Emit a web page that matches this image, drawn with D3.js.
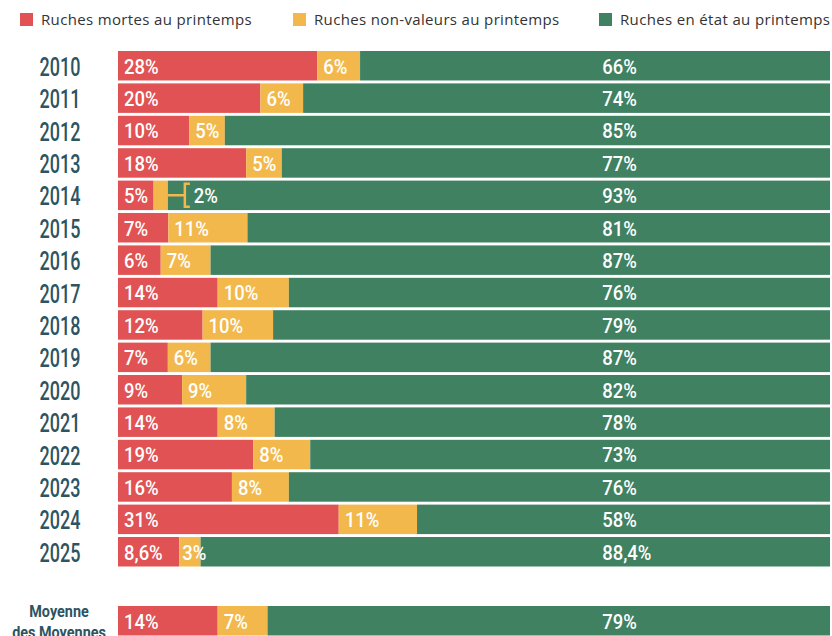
<!DOCTYPE html>
<html lang="fr">
  <head>
    <meta charset="utf-8">
    <title>Ruches au printemps</title>
    <script src="https://d3js.org/d3.v7.min.js"></script>
    <style>
      body { margin: 0; background: #fff; }
      svg { display: block; }
    </style>
  </head>
  <body>
    <script>
      var width = 832;
      var height = 636;
      var margin = {top: 51, left: 118, right: 2, bottom: 0};

      // données
      var years = ["2010","2011","2012","2013","2014","2015","2016","2017",
                   "2018","2019","2020","2021","2022","2023","2024","2025"];
      var mortes     = [28, 20, 10, 18, 5, 7, 6, 14, 12, 7, 9, 14, 19, 16, 31, 8.6];
      var nonValeurs = [6, 6, 5, 5, 2, 11, 7, 10, 10, 6, 9, 8, 8, 8, 11, 3];
      var enEtat     = [66, 74, 85, 77, 93, 81, 87, 76, 79, 87, 82, 78, 73, 76, 58, 88.4];
      var moyenneLabel = ["Moyenne", "des Moyennes"];
      var moyenne = [14, 7, 79];

      var keys = ["mortes", "nonValeurs", "enEtat"];
      var legendLabels = ["Ruches mortes au printemps", "Ruches non-valeurs au printemps", "Ruches en état au printemps"];
      var colors = ["#e05253", "#f2b84c", "#3f8161"];

      var rows = years.map(function(y, i) {
        return {year: y, mortes: mortes[i], nonValeurs: nonValeurs[i], enEtat: enEtat[i]};
      });
      var avgRow = {year: "moy", mortes: moyenne[0], nonValeurs: moyenne[1], enEtat: moyenne[2]};

      var fr = d3.formatLocale({decimal: ",", thousands: " ", grouping: [3], currency: ["", " €"]});
      var pct = function(v) { return (Number.isInteger(v) ? v : fr.format(".1f")(v)) + "%"; };

      var svg = d3.select("body")
        .append("svg")
        .attr("width", width)
        .attr("height", height);

      var x = d3.scaleLinear()
        .domain([0, 1])
        .range([margin.left, width - margin.right]);

      var y = d3.scaleBand()
        .domain(years)
        .range([margin.top, 566.5])
        .paddingInner(0.09);

      var yAvg = d3.scaleBand()
        .domain(["moy"])
        .range([606, 606 + y.bandwidth()]);

      var stack = d3.stack().keys(keys).offset(d3.stackOffsetExpand);
      var series = stack(rows.concat([avgRow]));

      function rowY(d) { return d.data.year === "moy" ? yAvg("moy") : y(d.data.year); }

      var labelFont = "Roboto, 'Noto Sans', sans-serif";

      // legend
      var legendX = [20, 293, 599];
      var legend = svg.append("g").attr("class", "legend");
      legendLabels.forEach(function(t, i) {
        legend.append("rect")
          .attr("x", legendX[i]).attr("y", 13)
          .attr("width", 13).attr("height", 13)
          .attr("fill", colors[i]);
        legend.append("text")
          .attr("x", legendX[i] + 21).attr("y", 25)
          .attr("font-family", "'Open Sans', sans-serif")
          .attr("font-size", 15)
          .attr("font-weight", 500)
          .attr("letter-spacing", 0.35)
          .attr("fill", "#333")
          .text(t);
      });

      // bars
      var layers = svg.selectAll("g.layer")
        .data(series)
        .enter()
        .append("g")
          .attr("class", "layer")
          .attr("fill", function(d, i) { return colors[i]; });

      layers.selectAll("rect")
        .data(function(d) { return d; })
        .enter()
        .append("rect")
          .attr("x", function(d) { return x(d[0]); })
          .attr("y", rowY)
          .attr("width", function(d) { return x(d[1]) - x(d[0]); })
          .attr("height", y.bandwidth());

      // labels inside bars
      series.forEach(function(s, k) {
        s.forEach(function(d) {
          var v = d.data[keys[k]];
          var cy = rowY(d) + y.bandwidth() / 2;
          var w = x(d[1]) - x(d[0]);
          var lx = k === 2 ? x(0.68) : x(d[0]) + (w < 30 ? 3 : 6);
          if (k === 1 && w < 20) {
            // petit segment : annotation avec crochet
            var ex = x(d[1]);
            svg.append("path")
              .attr("d", "M" + ex + "," + cy + "H" + (ex + 17) +
                         "M" + (ex + 22) + "," + (cy - 11.5) + "H" + (ex + 17) + "V" + (cy + 11.5) + "H" + (ex + 22))
              .attr("fill", "none")
              .attr("stroke", colors[1])
              .attr("stroke-width", 2.5);
            lx = ex + 26;
          }
          svg.append("text")
            .attr("transform", "translate(" + lx + "," + cy + ") scale(0.88,1)")
            .attr("dy", "0.37em")
            .attr("font-family", labelFont)
            .attr("font-size", 21)
            .attr("font-weight", 500)
            .attr("fill", "#fff")
            .text(pct(v));
        });
      });

      // year labels
      svg.append("g")
        .selectAll("text")
        .data(years)
        .enter()
        .append("text")
          .attr("transform", function(d) { return "translate(60," + (y(d) + y.bandwidth() / 2 + 1) + ") scale(0.72,1)"; })
          .attr("dy", "0.36em")
          .attr("text-anchor", "middle")
          .attr("font-family", labelFont)
          .attr("font-size", 25)
          .attr("font-weight", 500)
          .attr("fill", "#2e5361")
          .text(function(d) { return d; });

      svg.append("g")
        .selectAll("text")
        .data(moyenneLabel)
        .enter()
        .append("text")
          .attr("transform", function(d, i) { return "translate(59," + (yAvg("moy") + 5 + i * 21) + ") scale(0.9,1)"; })
          .attr("dy", "0.36em")
          .attr("text-anchor", "middle")
          .attr("font-family", labelFont)
          .attr("font-size", 16)
          .attr("font-weight", 700)
          .attr("fill", "#2e5361")
          .text(function(d) { return d; });
    </script>
  </body>
</html>
